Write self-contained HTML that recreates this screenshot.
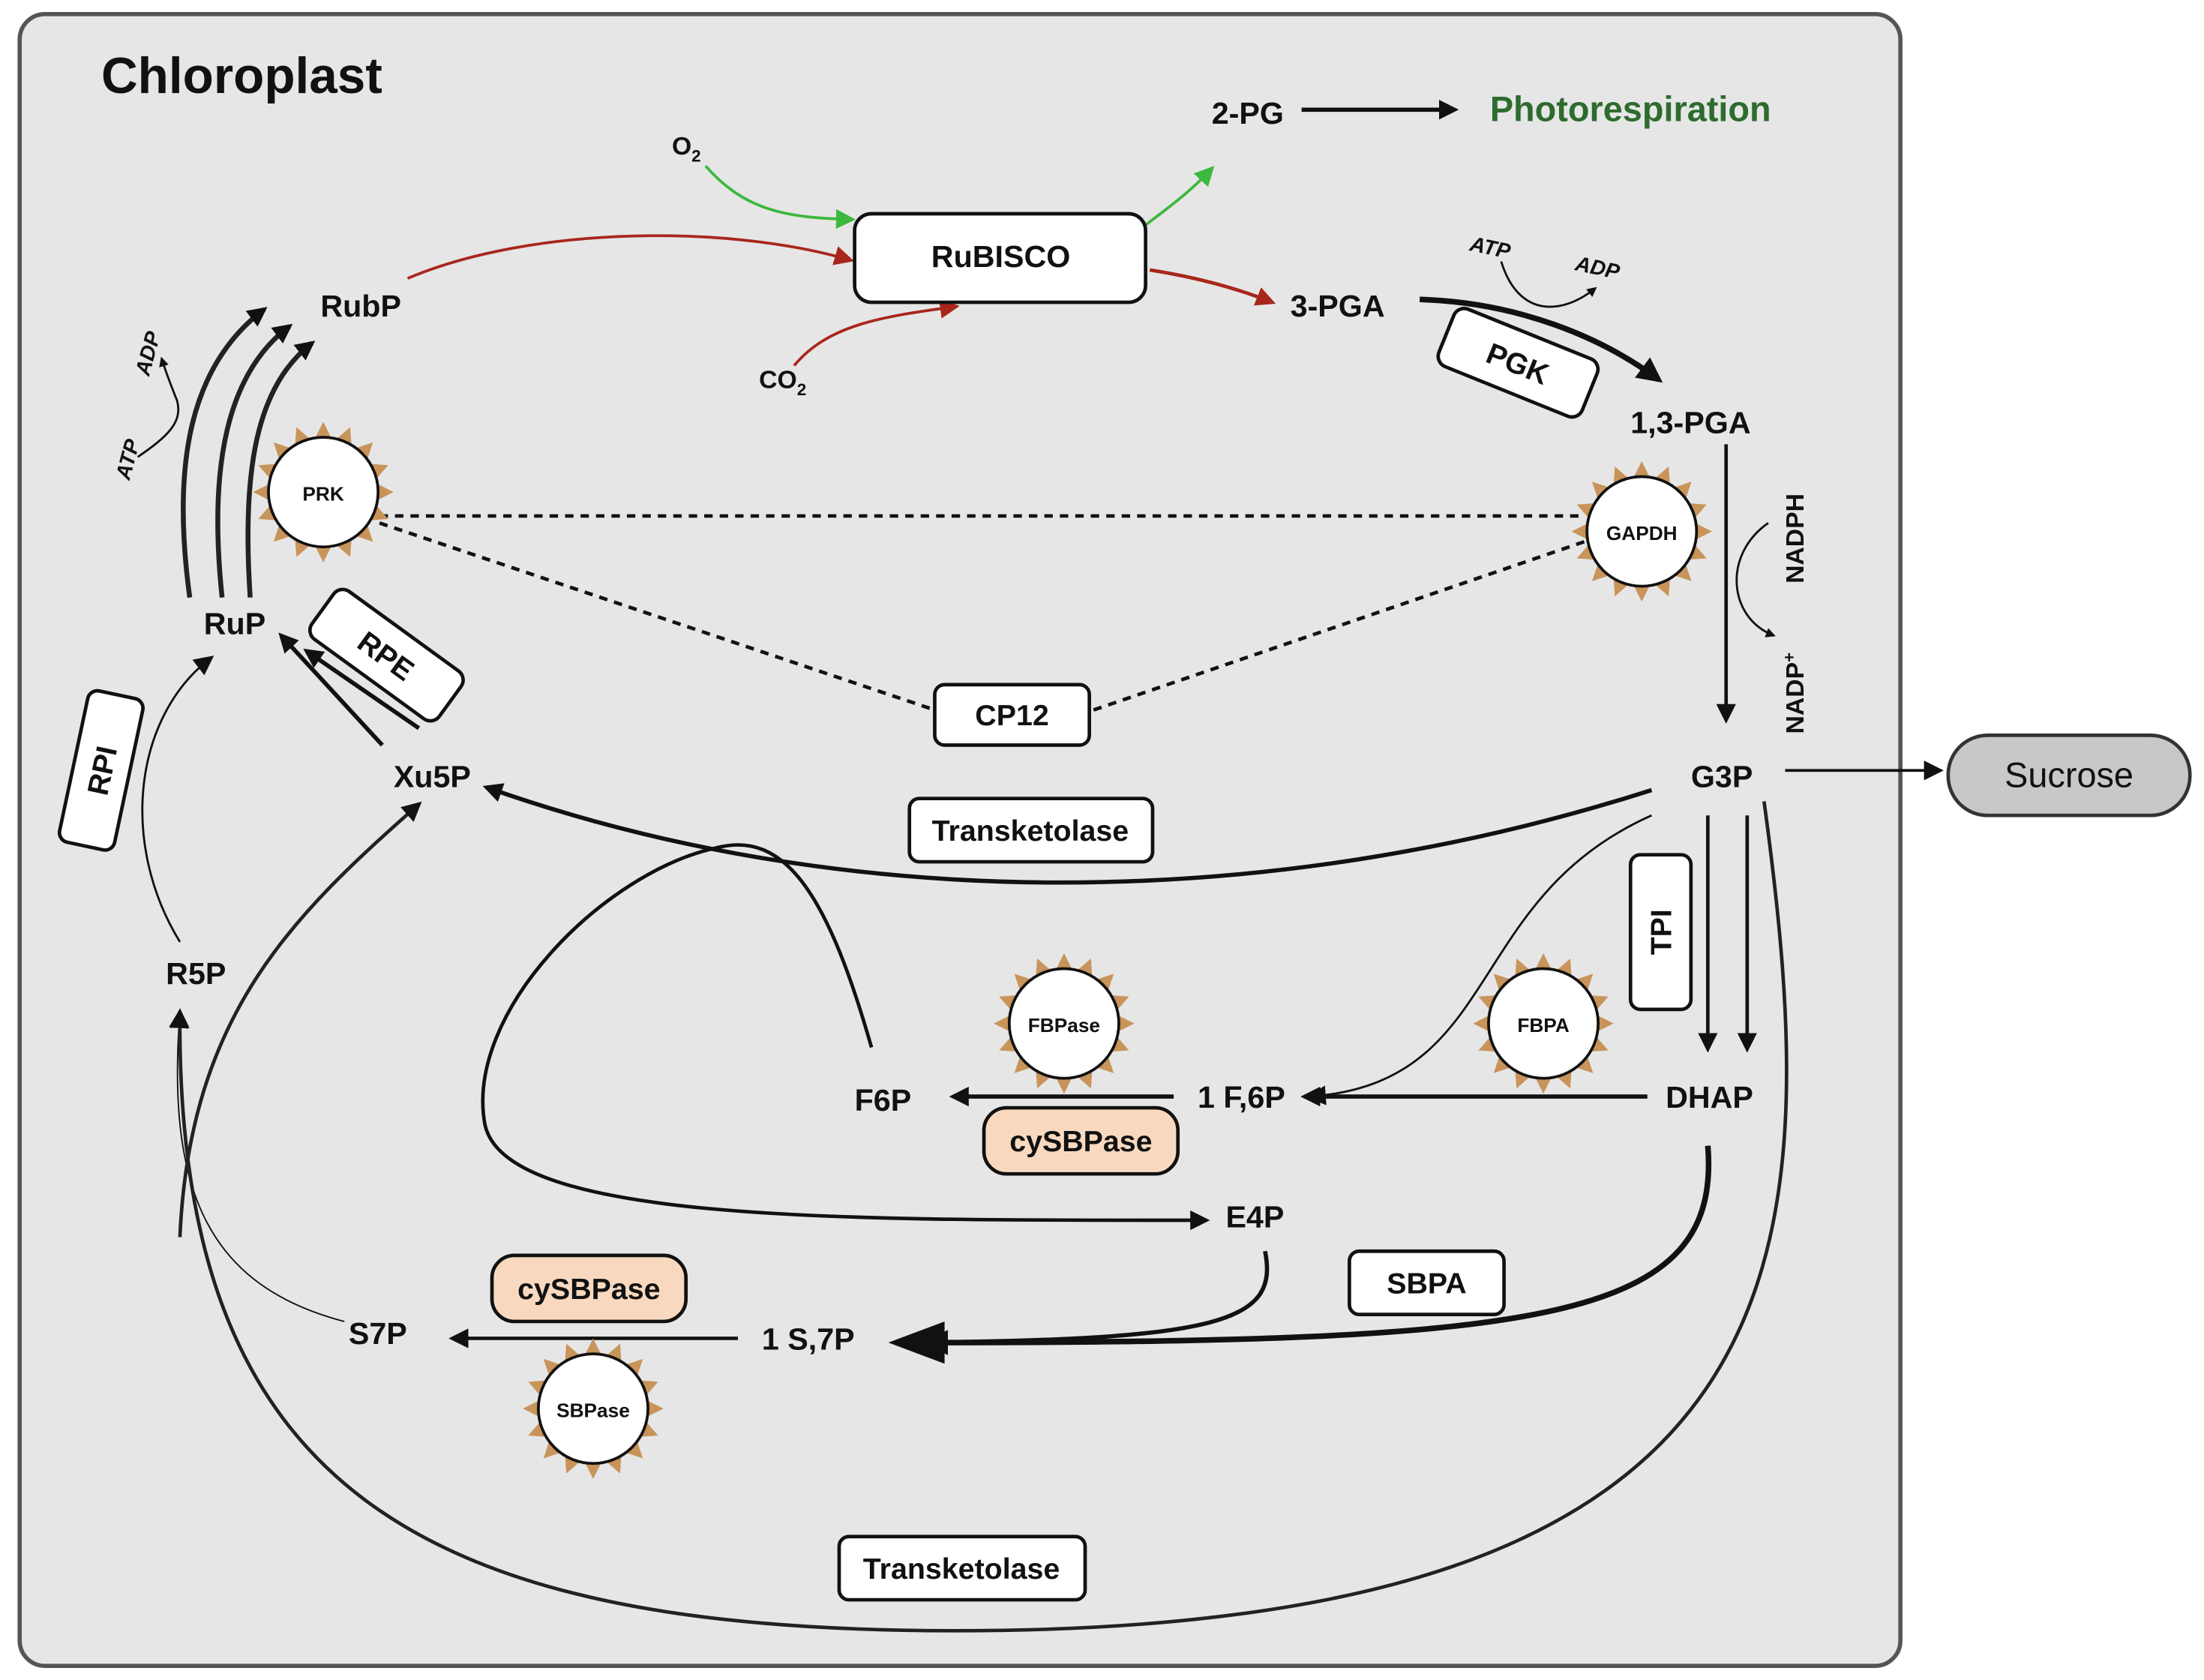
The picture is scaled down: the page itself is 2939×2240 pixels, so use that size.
<!DOCTYPE html>
<html><head><meta charset="utf-8"><style>
html,body{margin:0;padding:0;background:#fff}
svg{display:block}
text{font-family:"Liberation Sans",sans-serif;font-weight:bold;fill:#111}
</style></head><body>
<svg width="2939" height="2240" viewBox="0 0 1568 1195" xmlns="http://www.w3.org/2000/svg">
<defs>
<marker id="a" viewBox="0 0 10 10" refX="8" refY="5" markerWidth="7" markerHeight="7" markerUnits="userSpaceOnUse" orient="auto"><path d="M0,0L10,5L0,10z" fill="#111"/></marker>
<marker id="ab" viewBox="0 0 10 10" refX="8" refY="5" markerWidth="18" markerHeight="18" markerUnits="userSpaceOnUse" orient="auto"><path d="M0,0L10,5L0,10z" fill="#111"/></marker>
<marker id="am" viewBox="0 0 10 10" refX="8" refY="5" markerWidth="14" markerHeight="14" markerUnits="userSpaceOnUse" orient="auto"><path d="M0,0L10,5L0,10z" fill="#111"/></marker>
<marker id="ar" viewBox="0 0 10 10" refX="8" refY="5" markerWidth="14" markerHeight="14" markerUnits="userSpaceOnUse" orient="auto"><path d="M0,0L10,5L0,10z" fill="#a8271c"/></marker>
<marker id="ag" viewBox="0 0 10 10" refX="8" refY="5" markerWidth="14" markerHeight="14" markerUnits="userSpaceOnUse" orient="auto"><path d="M0,0L10,5L0,10z" fill="#3cb83c"/></marker>
<g id="sun">
<g fill="#c8945a">
<polygon points="-6,-38 0,-50 6,-38"/><polygon points="-6,-38 0,-50 6,-38" transform="rotate(22.5)"/><polygon points="-6,-38 0,-50 6,-38" transform="rotate(45)"/><polygon points="-6,-38 0,-50 6,-38" transform="rotate(67.5)"/><polygon points="-6,-38 0,-50 6,-38" transform="rotate(90)"/><polygon points="-6,-38 0,-50 6,-38" transform="rotate(112.5)"/><polygon points="-6,-38 0,-50 6,-38" transform="rotate(135)"/><polygon points="-6,-38 0,-50 6,-38" transform="rotate(157.5)"/><polygon points="-6,-38 0,-50 6,-38" transform="rotate(180)"/><polygon points="-6,-38 0,-50 6,-38" transform="rotate(202.5)"/><polygon points="-6,-38 0,-50 6,-38" transform="rotate(225)"/><polygon points="-6,-38 0,-50 6,-38" transform="rotate(247.5)"/><polygon points="-6,-38 0,-50 6,-38" transform="rotate(270)"/><polygon points="-6,-38 0,-50 6,-38" transform="rotate(292.5)"/><polygon points="-6,-38 0,-50 6,-38" transform="rotate(315)"/><polygon points="-6,-38 0,-50 6,-38" transform="rotate(337.5)"/>
</g>
<circle r="39" fill="#fff" stroke="#111" stroke-width="2"/>
</g>
</defs>
<rect width="1568" height="1195" fill="#fff"/>
<rect x="14" y="10" width="1338" height="1175" rx="18" fill="#e6e6e6" stroke="#555" stroke-width="3"/>
<text x="72" y="66" font-size="36">Chloroplast</text>

<!-- top -->
<text x="862" y="88" font-size="22">2-PG</text>
<line x1="926" y1="78" x2="1035" y2="78" stroke="#111" stroke-width="3" marker-end="url(#am)"/>
<text x="1060" y="86" font-size="25" style="fill:#2e6b2e">Photorespiration</text>
<text x="478" y="110" font-size="18">O<tspan font-size="12" dy="5">2</tspan></text>
<path d="M502,118 C530,150 560,155 606,156" fill="none" stroke="#3cb83c" stroke-width="2" marker-end="url(#ag)"/>
<path d="M815,160 C835,145 848,135 862,120" fill="none" stroke="#3cb83c" stroke-width="2" marker-end="url(#ag)"/>
<text x="540" y="276" font-size="18">CO<tspan font-size="12" dy="5">2</tspan></text>
<path d="M565,260 C590,230 630,225 680,218" fill="none" stroke="#a8271c" stroke-width="2" marker-end="url(#ar)"/>
<path d="M290,198 C380,160 520,160 605,185" fill="none" stroke="#a8271c" stroke-width="2" marker-end="url(#ar)"/>
<path d="M818,192 C850,197 880,205 905,215" fill="none" stroke="#a8271c" stroke-width="2.5" marker-end="url(#ar)"/>
<rect x="608" y="152" width="207" height="63" rx="12" fill="#fff" stroke="#111" stroke-width="2.5"/>
<text x="712" y="190" font-size="22" text-anchor="middle">RuBISCO</text>
<text x="918" y="225" font-size="22">3-PGA</text>
<path d="M1010,213 C1080,215 1140,240 1180,270" fill="none" stroke="#111" stroke-width="4" marker-end="url(#ab)"/>
<text x="1045" y="178" font-size="15" font-style="italic" transform="rotate(12 1045 178)">ATP</text>
<text x="1120" y="192" font-size="15" font-style="italic" transform="rotate(12 1120 192)">ADP</text>
<path d="M1068,186 C1080,225 1110,225 1135,205" fill="none" stroke="#111" stroke-width="1.5" marker-end="url(#a)"/>
<g transform="translate(1080,258) rotate(22)"><rect x="-55" y="-22" width="110" height="44" rx="8" fill="#fff" stroke="#111" stroke-width="2.5"/><text x="0" y="8" font-size="21" text-anchor="middle">PGK</text></g>
<text x="1160" y="308" font-size="22">1,3-PGA</text>
<line x1="1228" y1="316" x2="1228" y2="512" stroke="#111" stroke-width="2.5" marker-end="url(#am)"/>
<text font-size="18" transform="translate(1283,415) rotate(-90)">NADPH</text>
<text font-size="18" transform="translate(1283,522) rotate(-90)">NADP<tspan font-size="12" dy="-6">+</tspan></text>
<path d="M1258,372 C1225,395 1230,440 1262,452" fill="none" stroke="#111" stroke-width="1.5" marker-end="url(#a)"/>

<!-- dashed -->
<g stroke="#111" stroke-width="2.5" stroke-dasharray="6,5" fill="none">
<line x1="270" y1="367" x2="1128" y2="367"/>
<line x1="270" y1="372" x2="665" y2="505"/>
<line x1="778" y1="505" x2="1128" y2="385"/>
</g>
<use href="#sun" x="1168" y="378"/>
<text x="1168" y="384" font-size="14" text-anchor="middle">GAPDH</text>
<use href="#sun" x="230" y="350"/>
<text x="230" y="356" font-size="14" text-anchor="middle">PRK</text>
<rect x="665" y="487" width="110" height="43" rx="7" fill="#fff" stroke="#111" stroke-width="2.5"/>
<text x="720" y="516" font-size="21" text-anchor="middle">CP12</text>

<!-- G3P -->
<text x="1203" y="560" font-size="22">G3P</text>
<line x1="1270" y1="548" x2="1380" y2="548" stroke="#111" stroke-width="2" marker-end="url(#am)"/>
<rect x="1386" y="523" width="172" height="57" rx="28" fill="#c8c8c8" stroke="#333" stroke-width="2.5"/>
<text x="1472" y="560" font-size="25" text-anchor="middle" style="font-weight:normal">Sucrose</text>
<path d="M1175,562 C900,650 600,650 346,560" fill="none" stroke="#111" stroke-width="3" marker-end="url(#am)"/>
<rect x="647" y="568" width="173" height="45" rx="7" fill="#fff" stroke="#111" stroke-width="2.5"/>
<text x="733" y="598" font-size="21" text-anchor="middle">Transketolase</text>
<text x="280" y="560" font-size="22">Xu5P</text>
<text x="145" y="451" font-size="22">RuP</text>
<text x="228" y="225" font-size="22">RubP</text>
<line x1="272" y1="530" x2="200" y2="452" stroke="#111" stroke-width="3" marker-end="url(#am)"/>
<line x1="298" y1="518" x2="218" y2="463" stroke="#111" stroke-width="3" marker-end="url(#am)"/>
<g transform="translate(275,466) rotate(36)"><rect x="-56" y="-21" width="112" height="42" rx="8" fill="#fff" stroke="#111" stroke-width="2.5"/><text x="0" y="8" font-size="21" text-anchor="middle">RPE</text></g>
<g transform="translate(72,548) rotate(-78)"><rect x="-55" y="-20" width="110" height="40" rx="7" fill="#fff" stroke="#111" stroke-width="2.5"/><text x="0" y="8" font-size="21" text-anchor="middle">RPI</text></g>
<text x="118" y="700" font-size="22">R5P</text>
<path d="M128,670 C85,600 95,510 150,468" fill="none" stroke="#111" stroke-width="1.5" marker-end="url(#am)"/>
<g fill="none" stroke="#222" stroke-width="3.5">
<path d="M135,425 C122,330 135,260 188,220" marker-end="url(#am)"/>
<path d="M158,425 C148,330 162,265 206,232" marker-end="url(#am)"/>
<path d="M178,425 C172,335 182,275 222,244" marker-end="url(#am)"/>
</g>
<text font-size="15" font-style="italic" transform="translate(92,342) rotate(-75)">ATP</text>
<text font-size="15" font-style="italic" transform="translate(106,268) rotate(-75)">ADP</text>
<path d="M98,325 C120,310 130,300 126,285 C122,275 118,265 115,255" fill="none" stroke="#111" stroke-width="1.5" marker-end="url(#a)"/>

<!-- TPI / DHAP -->
<rect x="1160" y="608" width="43" height="110" rx="7" fill="#fff" stroke="#111" stroke-width="2.5"/>
<text font-size="21" text-anchor="middle" transform="translate(1189,663) rotate(-90)">TPI</text>
<line x1="1215" y1="580" x2="1215" y2="746" stroke="#111" stroke-width="2.5" marker-end="url(#am)"/>
<line x1="1243" y1="580" x2="1243" y2="746" stroke="#111" stroke-width="2.5" marker-end="url(#am)"/>
<text x="1185" y="788" font-size="22">DHAP</text>
<use href="#sun" x="1098" y="728"/>
<text x="1098" y="734" font-size="14" text-anchor="middle">FBPA</text>
<path d="M1175,580 C1040,640 1070,770 932,780" fill="none" stroke="#111" stroke-width="1.5" marker-end="url(#am)"/>
<line x1="1172" y1="780" x2="928" y2="780" stroke="#111" stroke-width="3" marker-end="url(#am)"/>
<text x="852" y="788" font-size="22">1 F,6P</text>
<use href="#sun" x="757" y="728"/>
<text x="757" y="734" font-size="14" text-anchor="middle">FBPase</text>
<line x1="835" y1="780" x2="678" y2="780" stroke="#111" stroke-width="3" marker-end="url(#am)"/>
<rect x="700" y="788" width="138" height="47" rx="16" fill="#f8d9bf" stroke="#111" stroke-width="2.5"/>
<text x="769" y="819" font-size="21" text-anchor="middle">cySBPase</text>
<text x="608" y="790" font-size="22">F6P</text>
<path d="M620,745 C590,640 560,590 510,603 C430,620 330,720 345,800 C360,870 600,868 858,868" fill="none" stroke="#111" stroke-width="2.5" marker-end="url(#am)"/>
<text x="872" y="873" font-size="22">E4P</text>
<path d="M900,890 C910,940 870,953 650,955" fill="none" stroke="#111" stroke-width="3"/>
<path d="M1215,815 C1225,940 1100,955 660,955" fill="none" stroke="#111" stroke-width="4" marker-end="url(#ab)"/>
<polygon points="632,955 672,940 672,970" fill="#111"/>
<rect x="960" y="890" width="110" height="45" rx="7" fill="#fff" stroke="#111" stroke-width="2.5"/>
<text x="1015" y="920" font-size="21" text-anchor="middle">SBPA</text>
<text x="542" y="960" font-size="22">1 S,7P</text>
<line x1="525" y1="952" x2="322" y2="952" stroke="#111" stroke-width="2.5" marker-end="url(#am)"/>
<rect x="350" y="893" width="138" height="47" rx="16" fill="#f8d9bf" stroke="#111" stroke-width="2.5"/>
<text x="419" y="924" font-size="21" text-anchor="middle">cySBPase</text>
<use href="#sun" x="422" y="1002"/>
<text x="422" y="1008" font-size="14" text-anchor="middle">SBPase</text>
<text x="248" y="956" font-size="22">S7P</text>
<path d="M245,940 C150,915 118,850 128,720" fill="none" stroke="#111" stroke-width="1" marker-end="url(#am)"/>
<path d="M1255,570 C1300,900 1290,1160 680,1160 C300,1160 125,1060 128,720" fill="none" stroke="#222" stroke-width="2.5" marker-end="url(#am)"/>
<path d="M128,880 C135,720 210,650 298,572" fill="none" stroke="#222" stroke-width="2.5" marker-end="url(#am)"/>
<rect x="597" y="1093" width="175" height="45" rx="7" fill="#fff" stroke="#111" stroke-width="2.5"/>
<text x="684" y="1123" font-size="21" text-anchor="middle">Transketolase</text>
</svg>
</body></html>
